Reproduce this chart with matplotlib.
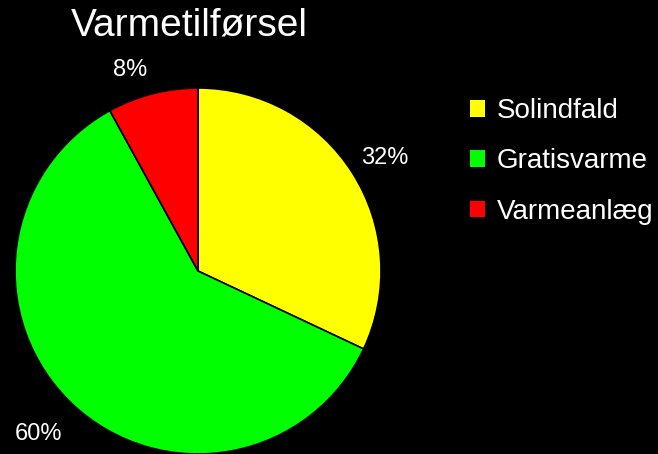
import matplotlib.pyplot as plt
from matplotlib.patches import Patch

plt.rcParams['font.family'] = ['Liberation Sans', 'DejaVu Sans']

# data
categories = ["Solindfald", "Gratisvarme", "Varmeanlæg"]
shares = [32, 60, 8]
colors = ["#ffff00", "#00ff00", "#ff0000"]

# where the percent labels sit (axes data units, radius 1)
label_pos = [(1.02, 0.62), (-0.87, -0.89), (-0.37, 1.10)]

fig = plt.figure(figsize=(6.58, 4.54), dpi=100, facecolor="black")

# pie axes: centre ~ (198, 271) px, radius ~183 px
r = 183
ax = fig.add_axes([(198 - r) / 658, (454 - 271 - r) / 454, 2 * r / 658, 2 * r / 454])
ax.set_facecolor("black")
wedges, texts, autotexts = ax.pie(
    shares,
    colors=colors,
    startangle=90,
    counterclock=False,
    autopct="%d%%",
    pctdistance=1.2,
    wedgeprops=dict(edgecolor="black", linewidth=1.2),
    textprops=dict(color="white", fontsize=17),
)
for t, p in zip(autotexts, label_pos):
    t.set_position(p)
ax.set_xlim(-1, 1)
ax.set_ylim(-1, 1)
ax.set_aspect("equal")

fig.text(189 / 658, 1 - 25 / 454, "Varmetilførsel", color="white", fontsize=28,
         ha="center", va="center")

handles = [Patch(facecolor=c, edgecolor="none") for c in colors]
leg = fig.legend(handles, categories, loc="upper left",
                 bbox_to_anchor=(445 / 658, 1 - 73 / 454),
                 frameon=False, fontsize=20, labelcolor="white",
                 handlelength=0.55, handleheight=0.55, handletextpad=0.4,
                 labelspacing=0.88)

fig.savefig("out.png", dpi=100, facecolor="black")
